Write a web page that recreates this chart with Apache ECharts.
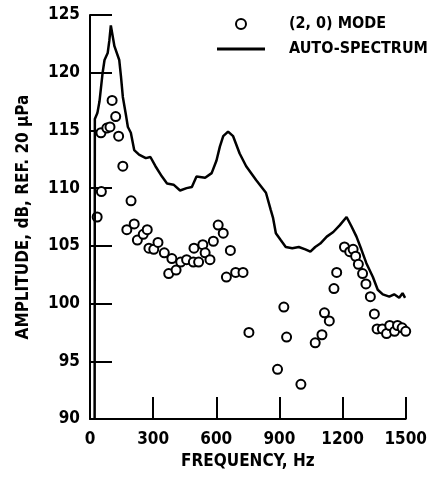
<!DOCTYPE html>
<html>
<head>
<meta charset="utf-8">
<script src="https://cdn.jsdelivr.net/npm/echarts@6/dist/echarts.min.js"></script>
<style>
html,body{margin:0;padding:0;background:#fff;}
#c{width:430px;height:478px;}
</style>
</head>
<body>
<div id="c"></div>
<script>
// (2, 0) mode: frequency (Hz), amplitude (dB)
var modeFreq = [34, 54, 52, 80, 95, 105, 122, 136, 156, 195, 175, 210, 225, 253, 272, 280, 303, 323, 353, 389, 374, 409, 431, 459, 494, 491, 516, 536, 547, 570, 586, 609, 633, 667, 648, 692, 727, 755, 921, 934, 891, 1002, 1070, 1102, 1114, 1137, 1159, 1172, 1209, 1234, 1250, 1262, 1275, 1295, 1311, 1332, 1351, 1364, 1389, 1409, 1424, 1447, 1461, 1483, 1500];
var modeAmp  = [107.5, 109.7, 114.8, 115.2, 115.3, 117.6, 116.2, 114.5, 111.9, 108.9, 106.4, 106.9, 105.5, 106.0, 106.4, 104.8, 104.7, 105.3, 104.4, 103.9, 102.6, 102.9, 103.6, 103.8, 104.8, 103.6, 103.6, 105.1, 104.4, 103.8, 105.4, 106.8, 106.1, 104.6, 102.3, 102.7, 102.7, 97.5, 99.7, 97.1, 94.3, 93.0, 96.6, 97.3, 99.2, 98.5, 101.3, 102.7, 104.9, 104.5, 104.7, 104.1, 103.4, 102.6, 101.7, 100.6, 99.1, 97.8, 97.8, 97.4, 98.1, 97.6, 98.1, 97.9, 97.6];

// Auto-spectrum: frequency (Hz), amplitude (dB)
var specFreq = [22, 23, 35, 45, 60, 69, 84, 92, 99, 116, 139, 147, 156, 172, 180, 194, 210, 233, 265, 287, 311, 342, 366, 397, 428, 459, 484, 506, 547, 578, 601, 617, 633, 656, 680, 711, 742, 789, 836, 859, 870, 883, 906, 930, 961, 992, 1023, 1047, 1070, 1094, 1125, 1156, 1187, 1219, 1242, 1266, 1289, 1313, 1344, 1367, 1391, 1422, 1445, 1469, 1485, 1497];
var specAmp  = [90, 116.0, 116.5, 117.5, 120.0, 121.1, 121.7, 122.8, 124.1, 122.3, 121.1, 119.7, 117.9, 116.2, 115.3, 114.8, 113.3, 112.9, 112.6, 112.7, 111.9, 111.0, 110.4, 110.3, 109.8, 110.0, 110.1, 111.0, 110.9, 111.3, 112.4, 113.6, 114.5, 114.9, 114.5, 113.0, 111.9, 110.7, 109.6, 108.1, 107.4, 106.1, 105.5, 104.9, 104.8, 104.9, 104.7, 104.5, 104.9, 105.2, 105.8, 106.2, 106.8, 107.5, 106.7, 105.8, 104.7, 103.5, 102.3, 101.2, 100.8, 100.6, 100.8, 100.5, 100.9, 100.5];

var seriesNames = ['(2, 0) MODE', 'AUTO-SPECTRUM'];
var xName = 'FREQUENCY, Hz';
var yName = 'AMPLITUDE, dB, REF. 20 \u00b5Pa';

var FONT = "'Liberation Sans Narrow', 'DejaVu Sans Condensed', 'Liberation Sans', sans-serif";

function pairs(xs, ys) { return xs.map(function (x, i) { return [x, ys[i]]; }); }

var chart = echarts.init(document.getElementById('c'), null, {renderer: 'canvas'});
chart.setOption({
  backgroundColor: '#fff',
  animation: false,
  grid: {left: 90, right: 20, top: 15, bottom: 59, containLabel: false},
  legend: {
    orient: 'vertical',
    left: 217, top: 16,
    itemWidth: 48, itemHeight: 10, itemGap: 9,
    padding: 0,
    textStyle: {fontFamily: FONT, fontWeight: 'bold', fontSize: 16, color: '#000', lineHeight: 16, padding: [0, 0, 0, 19]},
    data: [
      {name: seriesNames[0]},
      {name: seriesNames[1], icon: 'path://M0,0 L48,0 L48,3 L0,3 Z', itemStyle: {color: '#000', borderWidth: 0}}
    ]
  },
  xAxis: {
    type: 'value', min: 0, max: 1500, interval: 300,
    name: xName, nameLocation: 'middle', nameGap: 34,
    nameTextStyle: {fontFamily: FONT, fontWeight: 'bold', fontSize: 17, color: '#000'},
    axisLine: {show: true, lineStyle: {color: '#000', width: 2}},
    axisTick: {show: true, inside: true, length: 22, lineStyle: {color: '#000', width: 2}},
    axisLabel: {fontFamily: FONT, fontWeight: 'bold', fontSize: 17, color: '#000', margin: 12,
      formatter: function (v) { return String(v); }},
    splitLine: {show: false}
  },
  yAxis: {
    type: 'value', min: 90, max: 125, interval: 5,
    name: yName, nameLocation: 'middle', nameGap: 58, nameRotate: 90,
    nameTextStyle: {fontFamily: FONT, fontWeight: 'bold', fontSize: 17, color: '#000'},
    axisLine: {show: true, lineStyle: {color: '#000', width: 2}},
    axisTick: {show: true, inside: true, length: 22, lineStyle: {color: '#000', width: 2}},
    axisLabel: {fontFamily: FONT, fontWeight: 'bold', fontSize: 17, color: '#000', margin: 10},
    splitLine: {show: false}
  },
  series: [
    {
      name: seriesNames[0], type: 'scatter',
      data: pairs(modeFreq, modeAmp),
      symbol: 'circle', symbolSize: 9, clip: false,
      itemStyle: {color: '#fff', borderColor: '#000', borderWidth: 2, opacity: 1},
      z: 2
    },
    {
      name: seriesNames[1], type: 'line',
      data: pairs(specFreq, specAmp),
      showSymbol: false, symbol: 'none',
      lineStyle: {color: '#000', width: 2.5},
      itemStyle: {color: '#000'},
      z: 3
    }
  ]
});
</script>
</body>
</html>
